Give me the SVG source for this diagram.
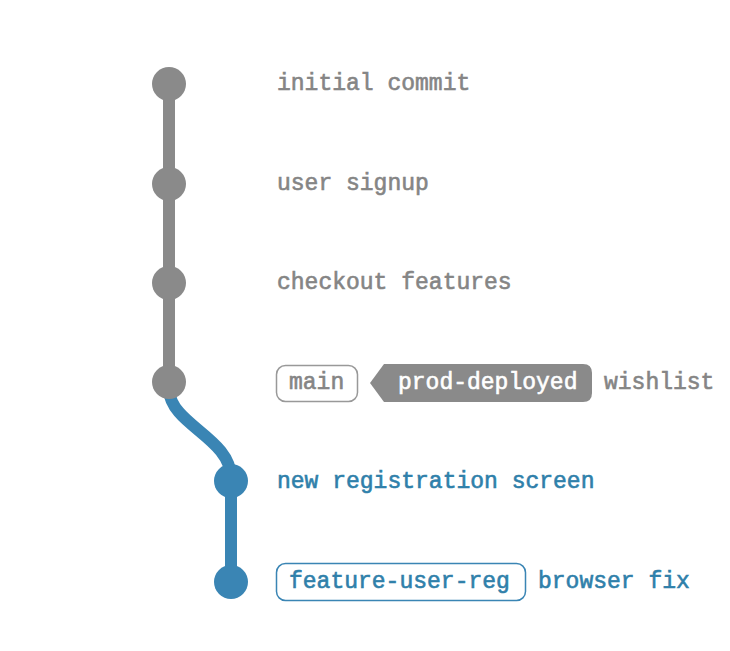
<svg xmlns="http://www.w3.org/2000/svg" width="730" height="651" viewBox="0 0 730 651">
<style>
text{font-family:"Liberation Mono","Courier New",monospace;font-size:23px;font-weight:normal;stroke-width:0.6px}
.g{fill:#858585;stroke:#858585}
.b{fill:#2f80aa;stroke:#2f80aa}
.gn{fill:#8a8a8a}
.bn{fill:#3a85b4}
.w{fill:#ffffff;stroke:#ffffff}
</style>
<rect width="730" height="651" fill="#ffffff"/>
<g id="connectors">
<line x1="169" y1="84" x2="169" y2="382" stroke="#8a8a8a" stroke-width="12"/>
<path d="M169,390 C171,425 231,438 231,478" fill="none" stroke="#3a85b4" stroke-width="12"/>
<line x1="231" y1="481" x2="231" y2="582" stroke="#3a85b4" stroke-width="12"/>
</g>
<g id="c1"><circle class="gn" cx="169" cy="84" r="17"/><text class="g" x="277" y="90">initial commit</text></g>
<g id="c2"><circle class="gn" cx="169" cy="184" r="17"/><text class="g" x="277" y="190">user signup</text></g>
<g id="c3"><circle class="gn" cx="169" cy="283" r="17"/><text class="g" x="277" y="289">checkout features</text></g>
<g id="c4"><circle class="gn" cx="169" cy="382" r="17"/>
<rect x="276.5" y="365.5" width="81" height="36" rx="9" fill="#fff" stroke="#999" stroke-width="1.5"/>
<text class="g" x="289" y="389">main</text>
<path d="M370,383 L384,364 H583 Q592,364 592,373 V393 Q592,402 583,402 H384 Z" fill="#8a8a8a"/>
<text class="w" x="398" y="389">prod-deployed</text>
<text class="g" x="604" y="389">wishlist</text></g>
<g id="c5"><circle class="bn" cx="231" cy="481" r="17"/><text class="b" x="277" y="488">new registration screen</text></g>
<g id="c6"><circle class="bn" cx="231" cy="582" r="17"/>
<rect x="276.5" y="563.5" width="249" height="37" rx="9" fill="#fff" stroke="#3a85b4" stroke-width="1.5"/>
<text class="b" x="289" y="588">feature-user-reg</text>
<text class="b" x="538" y="588">browser fix</text></g>
</svg>
